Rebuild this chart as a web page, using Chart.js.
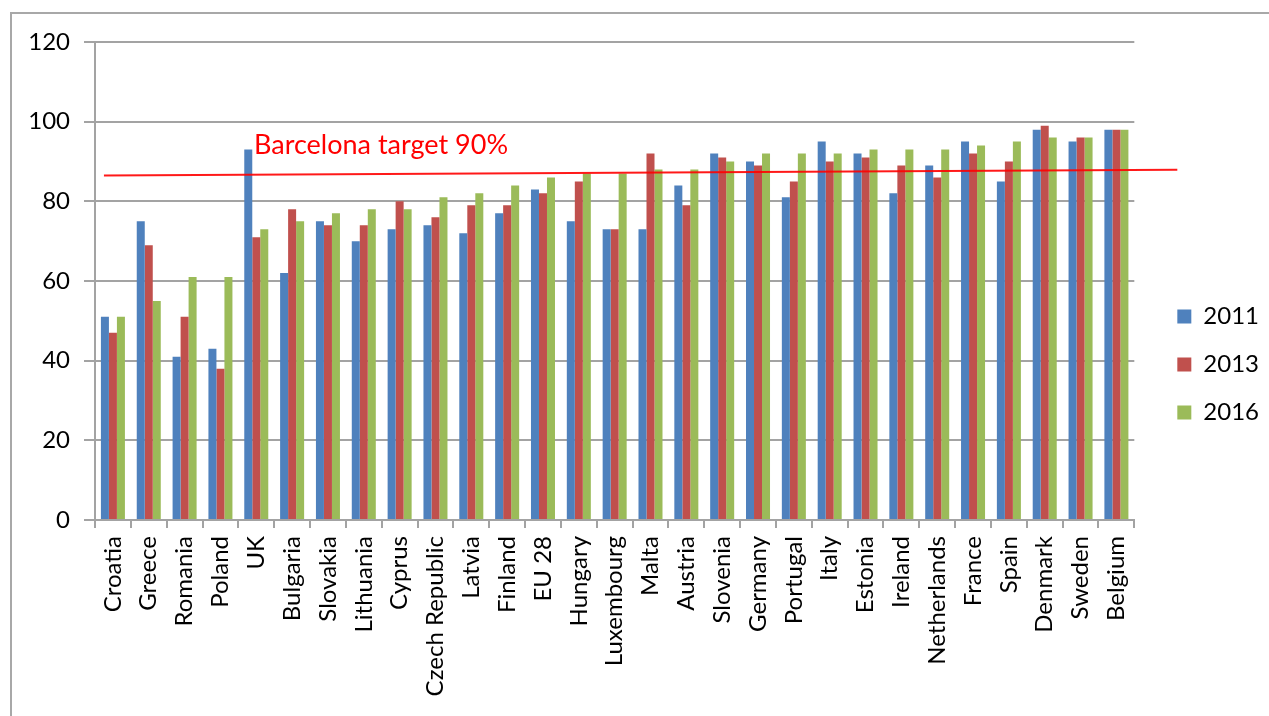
<!DOCTYPE html>
<html>
<head>
<meta charset="utf-8">
<script src="https://cdn.jsdelivr.net/npm/chart.js@4/dist/chart.umd.min.js"></script>
<style>
  html, body { margin: 0; padding: 0; background: #ffffff; }
  #wrap { position: relative; width: 1269px; height: 716px; overflow: hidden; background: #fff; }
  #frame { position: absolute; left: 10px; top: 12px; width: 1400px; height: 900px;
           border-left: 2px solid #a8a8a8; border-top: 2px solid #a8a8a8; box-sizing: border-box; }
  canvas { position: absolute; left: 0; top: 0; }
</style>
</head>
<body>
<div id="wrap">
  <div id="frame"></div>
  <canvas id="c" width="1269" height="716"></canvas>
</div>
<script>
const categories = ["Croatia","Greece","Romania","Poland","UK","Bulgaria","Slovakia","Lithuania","Cyprus","Czech Republic","Latvia","Finland","EU 28","Hungary","Luxembourg","Malta","Austria","Slovenia","Germany","Portugal","Italy","Estonia","Ireland","Netherlands","France","Spain","Denmark","Sweden","Belgium"];
const values2011 = [51,75,41,43,93,62,75,70,73,74,72,77,83,75,73,73,84,92,90,81,95,92,82,89,95,85,98,95,98];
const values2013 = [47,69,51,38,71,78,74,74,80,76,79,79,82,85,73,92,79,91,89,85,90,91,89,86,92,90,99,96,98];
const values2016 = [51,55,61,61,73,75,77,78,78,81,82,84,86,87,87,88,88,90,92,92,92,93,93,93,94,95,96,96,98];
const seriesLabels = ["2011","2013","2016"];
const yTicks = [0,20,40,60,80,100,120];
const targetLineValues = [86.5, 87.9];
const targetLabel = "Barcelona target 90%";

const FONT = "Lato";
const GRID = "#a3a3a3";

// Target line drawn through the library's scales (fractional category positions)
const targetPlugin = {
  id: "targetLine",
  afterDatasetsDraw(chart) {
    const ctx = chart.ctx;
    const xs = chart.scales.x;
    const ys = chart.scales.y;
    const last = categories.length - 1;
    const x0 = xs.getPixelForValue(-0.25);
    const x1 = xs.getPixelForValue(last + 1.7);
    const y0 = ys.getPixelForValue(targetLineValues[0]);
    const y1 = ys.getPixelForValue(targetLineValues[1]);
    ctx.save();
    ctx.strokeStyle = "rgba(255,0,0,0.9)";
    ctx.lineWidth = 2;
    ctx.beginPath();
    ctx.moveTo(x0, y0);
    ctx.lineTo(x1, y1);
    ctx.stroke();
    ctx.fillStyle = "#ff0000";
    ctx.font = "27px " + FONT;
    ctx.textAlign = "left";
    ctx.textBaseline = "alphabetic";
    ctx.fillText(targetLabel, chart.chartArea.left + 159, y0 - 21);
    ctx.restore();
  }
};

new Chart(document.getElementById("c"), {
  type: "bar",
  data: {
    labels: categories,
    datasets: [
      { label: seriesLabels[0], data: values2011, backgroundColor: "#4f81bd" },
      { label: seriesLabels[1], data: values2013, backgroundColor: "#c0504d" },
      { label: seriesLabels[2], data: values2016, backgroundColor: "#9bbb59" }
    ]
  },
  options: {
    responsive: false,
    animation: false,
    layout: { padding: { left: 0, top: 42, right: 0, bottom: 0 } },
    datasets: { bar: { categoryPercentage: 0.67, barPercentage: 1.0 } },
    plugins: {
      tooltip: { enabled: false },
      legend: {
        position: "right",
        align: "start",
        title: { display: true, text: "", padding: { top: 224, bottom: 0 }, font: { size: 12 } },
        labels: {
          boxWidth: 14, boxHeight: 14, padding: 24,
          color: "#000", font: { family: FONT, size: 24 }
        }
      }
    },
    scales: {
      x: {
        type: "category",
        position: "bottom",
        grid: { display: true, drawOnChartArea: false, offset: true, tickLength: 8, color: GRID, lineWidth: 2 },
        border: { display: true, color: GRID, width: 2 },
        ticks: { autoSkip: false, minRotation: 90, maxRotation: 90, padding: 8, color: "#000", font: { family: FONT, size: 24 } },
        afterFit: (s) => { s.height = 196; }
      },
      y: {
        type: "linear",
        position: "left",
        min: 0, max: 120,
        afterBuildTicks: (s) => { s.ticks = yTicks.map(v => ({ value: v })); },
        grid: { color: GRID, lineWidth: 2, tickLength: 11 },
        border: { display: true, color: GRID, width: 2 },
        ticks: { padding: 14, color: "#000", font: { family: FONT, size: 24 } },
        afterFit: (s) => { s.width = 95; }
      },
      yPad: {
        type: "linear",
        position: "right",
        grid: { display: false },
        border: { display: false },
        ticks: { display: false },
        afterFit: (s) => { s.width = 19; }
      }
    }
  },
  plugins: [targetPlugin]
});
</script>
</body>
</html>
